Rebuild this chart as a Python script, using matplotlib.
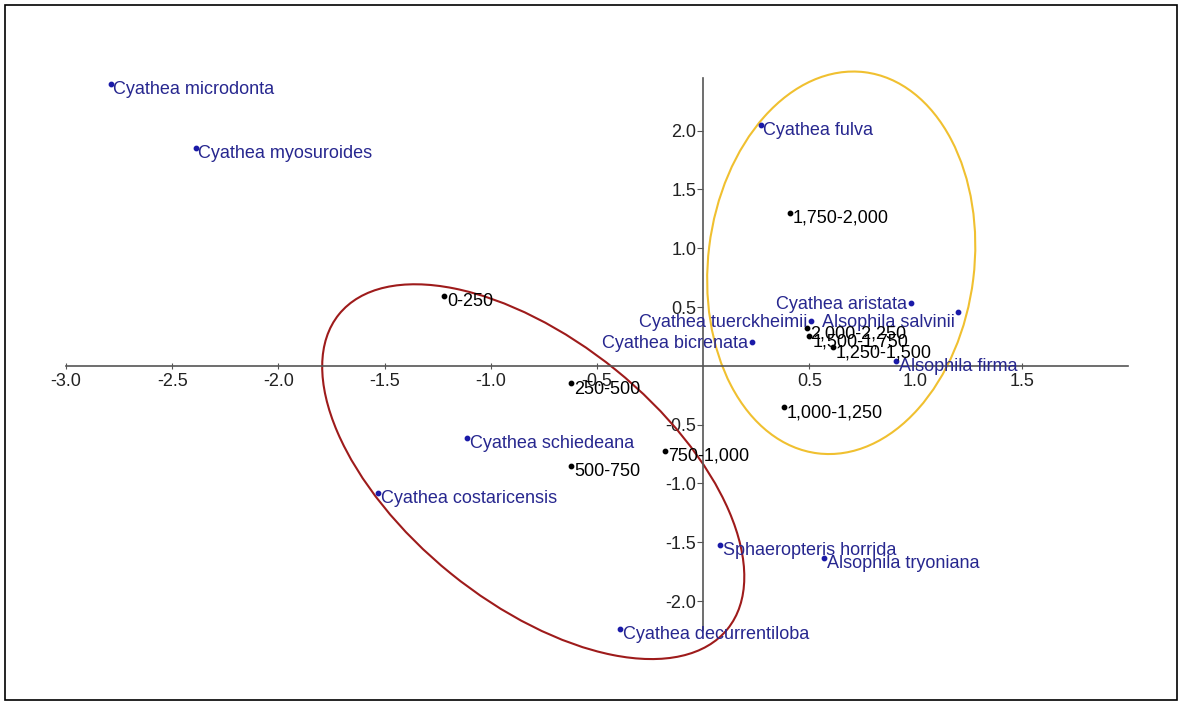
import numpy as np
import matplotlib.pyplot as plt
from matplotlib.patches import Ellipse, Rectangle
from matplotlib.transforms import ScaledTranslation

plt.rcParams['font.family'] = ['Liberation Sans', 'DejaVu Sans']

# species scores
species = ["Cyathea microdonta", "Cyathea myosuroides", "Cyathea fulva",
           "Cyathea aristata", "Alsophila salvinii", "Cyathea tuerckheimii",
           "Cyathea bicrenata", "Alsophila firma", "Cyathea schiedeana",
           "Cyathea costaricensis", "Sphaeropteris horrida",
           "Alsophila tryoniana", "Cyathea decurrentiloba"]
species_x = [-2.79, -2.39, 0.27, 0.98, 1.20, 0.51, 0.23, 0.91, -1.11,
             -1.53, 0.08, 0.57, -0.39]
species_y = [2.40, 1.85, 2.05, 0.53, 0.46, 0.38, 0.20, 0.04, -0.61,
             -1.08, -1.52, -1.63, -2.24]

# altitude belts (m)
belts = ["0-250", "250-500", "500-750", "750-1,000", "1,000-1,250",
         "1,250-1,500", "1,500-1,750", "1,750-2,000", "2,000-2,250"]
belts_x = [-1.22, -0.62, -0.62, -0.18, 0.38, 0.61, 0.50, 0.41, 0.49]
belts_y = [0.59, -0.15, -0.85, -0.72, -0.35, 0.16, 0.25, 1.30, 0.32]

xticks = [-3.0, -2.5, -2.0, -1.5, -1.0, -0.5, 0.5, 1.0, 1.5]
yticks = [-2.0, -1.5, -1.0, -0.5, 0.5, 1.0, 1.5, 2.0]

left_labels = {"Cyathea aristata", "Alsophila salvinii",
               "Cyathea tuerckheimii", "Cyathea bicrenata"}

fig = plt.figure(figsize=(11.82, 7.06), dpi=100)
ax = fig.add_axes([0.0558, 0.107, 0.8985, 0.783])
ax.set_xlim(-3.0, 2.0)
ax.set_ylim(-2.25, 2.45)

# axes crossing at the origin
for side in ["top", "right"]:
    ax.spines[side].set_visible(False)
for side in ["left", "bottom"]:
    ax.spines[side].set_position(("data", 0))
    ax.spines[side].set_color("#555555")
    ax.spines[side].set_linewidth(1.2)
ax.set_xticks(xticks)
ax.set_yticks(yticks)
ax.set_xticklabels([f"{t:.1f}" for t in xticks])
ax.set_yticklabels([f"{t:.1f}" for t in yticks])
ax.tick_params(axis="x", direction="inout", length=5, color="#555555",
               labelsize=13, pad=3, labelcolor="#222222")
ax.tick_params(axis="y", direction="out", length=4, color="#555555",
               labelsize=13, pad=1, labelcolor="#222222")
ax.patch.set_visible(False)

ax.scatter(species_x, species_y, s=10, color="#1a1aa8", zorder=3,
           clip_on=False)
ax.scatter(belts_x, belts_y, s=10, color="black", zorder=3, clip_on=False)

for name, x, y in zip(species, species_x, species_y):
    if name == "Alsophila salvinii":
        off, ha = (-2, -8), "right"
    elif name in left_labels:
        off, ha = (-3, -1), "right"
    else:
        off, ha = (2, -4), "left"
    ax.annotate(name, (x, y), xytext=off, textcoords="offset points",
                ha=ha, va="center", fontsize=13, color="#27278f")

for name, x, y in zip(belts, belts_x, belts_y):
    ax.annotate(name, (x, y), xytext=(2, -4), textcoords="offset points",
                ha="left", va="center", fontsize=13, color="black")

# group ellipses, sized in inches around a data centre
def group_ellipse(cx, cy, w, h, angle, color):
    tr = fig.dpi_scale_trans + ScaledTranslation(cx, cy, ax.transData)
    e = Ellipse((0, 0), w, h, angle=angle, transform=tr, fill=False,
                edgecolor=color, linewidth=1.5, zorder=2, clip_on=False)
    ax.add_patch(e)

group_ellipse(-0.80, -0.90, 5.0, 2.62, -39, "#9e1b1b")
group_ellipse(0.65, 0.876, 2.66, 3.84, -7, "#f0c030")

fig.patches.append(Rectangle((0.004, 0.008), 0.992, 0.985,
                             transform=fig.transFigure, fill=False,
                             edgecolor="black", linewidth=1.2))

fig.savefig("out.png", dpi=100)
